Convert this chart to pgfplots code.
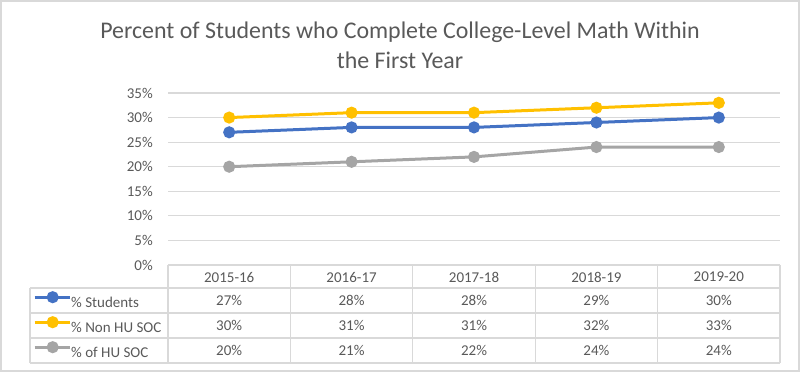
\documentclass[border=0pt]{standalone}
\usepackage{pgfplots}
\pgfplotsset{compat=1.18}
\usepackage{fontspec}
\setmainfont{Carlito}
\definecolor{cblue}{HTML}{4472C4}
\definecolor{cgold}{HTML}{FFC000}
\definecolor{cgray}{HTML}{A5A5A5}
\definecolor{gridc}{HTML}{D9D9D9}
\definecolor{txt}{HTML}{595959}
\begin{document}
\begin{tikzpicture}[x=1pt,y=1pt]
\path (0,0) rectangle (800,372);
\draw[gridc, line width=2pt] (1,1) rectangle (799,371);
\node[txt, font=\fontsize{23.9}{30}\selectfont, align=center] at (400,327) {Percent of Students who Complete College-Level Math Within\\the First Year};
\begin{axis}[at={(168pt,107pt)}, anchor=south west, scale only axis,
  width=612pt, height=172pt,
  xmin=-0.5, xmax=4.5, ymin=0, ymax=35,
  ytick={0,5,...,35}, yticklabel={\pgfmathprintnumber{\tick}\%},
  xtick={0,...,4}, xticklabels={2015-16,2016-17,2017-18,2018-19,2019-20},
  axis line style={draw=none}, major tick length=0pt,
  ymajorgrids, grid style={gridc, line width=1.2pt},
  ticklabel style={font=\fontsize{15}{18}\selectfont, text=txt},
  /pgf/number format/assume math mode=true,
  yticklabel style={anchor=east, inner sep=0pt, xshift=-15pt},
  xticklabel style={anchor=center, inner sep=0pt, yshift=-12pt},
  clip=false,
  legend style={at={(-0.2206,-0.1424)}, anchor=north west, draw=none, fill=none,
    inner sep=0pt, row sep=0pt, font=\fontsize{15}{18}\selectfont, text=txt,
    nodes={inner sep=0pt, text height=17.35pt, text depth=7.65pt},
    /tikz/every odd column/.append style={column sep=0pt}},
  legend cell align=left,
  legend image code/.code={\draw[#1, mark repeat=2, mark phase=2] plot coordinates {(0pt,5pt) (18pt,5pt) (35pt,5pt)};},
  every axis plot/.append style={line width=3pt, mark=*, mark size=4.5pt, mark options={solid}},
]
\addplot[cblue, mark options={fill=cblue}] coordinates {(0,27) (1,28) (2,28) (3,29) (4,30)};
\addlegendentry{\% Students}
\addplot[cgold, mark options={fill=cgold}] coordinates {(0,30) (1,31) (2,31) (3,32) (4,33)};
\addlegendentry{\% Non HU SOC}
\addplot[cgray, mark options={fill=cgray}] coordinates {(0,20) (1,21) (2,22) (3,24) (4,24)};
\addlegendentry{\% of HU SOC}
\end{axis}
% data table grid
\begin{scope}[gridc, line width=1.2pt]
\draw (168,107) -- (780,107);
\foreach \y in {84,59,34,9} \draw (30,\y) -- (780,\y);
\draw (30,84) -- (30,9);
\foreach \x in {168,290.4,412.8,535.2,657.6,780} \draw (\x,107) -- (\x,9);
\end{scope}
\begin{scope}[txt, font=\fontsize{15}{18}\selectfont, every node/.style={anchor=base, inner sep=0pt}]
\foreach \v [count=\i from 0] in {27,28,28,29,30} \node at (229.2+122.4*\i, 71-4.85) {\v\%};
\foreach \v [count=\i from 0] in {30,31,31,32,33} \node at (229.2+122.4*\i, 46-4.85) {\v\%};
\foreach \v [count=\i from 0] in {20,21,22,24,24} \node at (229.2+122.4*\i, 21.5-4.85) {\v\%};
\end{scope}
\end{tikzpicture}
\end{document}
